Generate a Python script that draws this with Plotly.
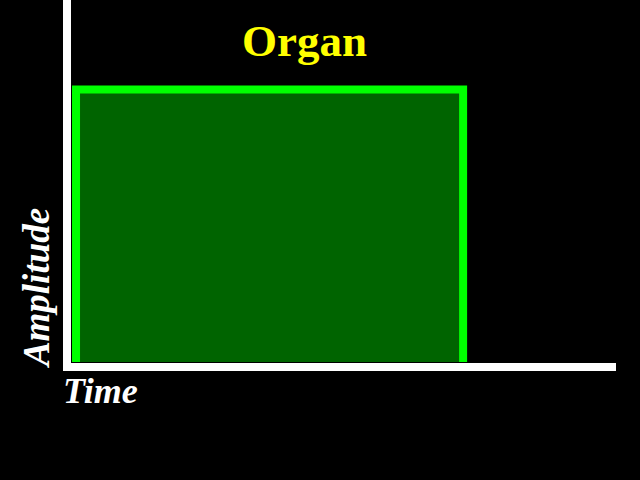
import plotly.graph_objects as go

# Envelope of the organ note: instant attack, sustained, instant release
time = [0, 0, 1, 1]
amplitude = [0, 1, 1, 0]

title_text = "Organ"
x_label = "Time"
y_label = "Amplitude"

fig = go.Figure()
fig.add_trace(go.Scatter(
    x=time, y=amplitude, mode="lines",
    line=dict(color="#00FF00", width=8),
    fill="tozeroy", fillcolor="#006400",
    hoverinfo="skip", showlegend=False,
))

axis_common = dict(showgrid=False, zeroline=False, showticklabels=False, ticks="",
                   showline=True, linecolor="white", linewidth=8, fixedrange=True)

fig.update_layout(
    width=640, height=480,
    paper_bgcolor="black", plot_bgcolor="black",
    margin=dict(l=71, r=24, t=0, b=117, pad=0),
    xaxis=dict(range=[-0.013, 1.395], **axis_common),
    yaxis=dict(range=[-0.004, 1.328], **axis_common),
    showlegend=False,
)

fig.add_annotation(text=title_text, xref="paper", yref="paper", x=0.429, y=0.887,
                   xanchor="center", yanchor="middle", showarrow=False,
                   font=dict(family="Liberation Serif", size=45, color="#FFFF00", weight="bold"))
fig.add_annotation(text=x_label, xref="paper", yref="paper", x=-0.018, y=-0.077,
                   xanchor="left", yanchor="middle", showarrow=False,
                   font=dict(family="Liberation Serif", size=36, color="white", weight="bold", style="italic"))
fig.add_annotation(text=y_label, xref="paper", yref="paper", x=-0.064, y=0.2066,
                   xanchor="center", yanchor="middle", showarrow=False, textangle=-90,
                   font=dict(family="Liberation Serif", size=37, color="white", weight="bold", style="italic"))

fig.write_html("out.html", config={"displayModeBar": False},
               post_script="document.body.style.margin='0';document.body.style.background='black';")
